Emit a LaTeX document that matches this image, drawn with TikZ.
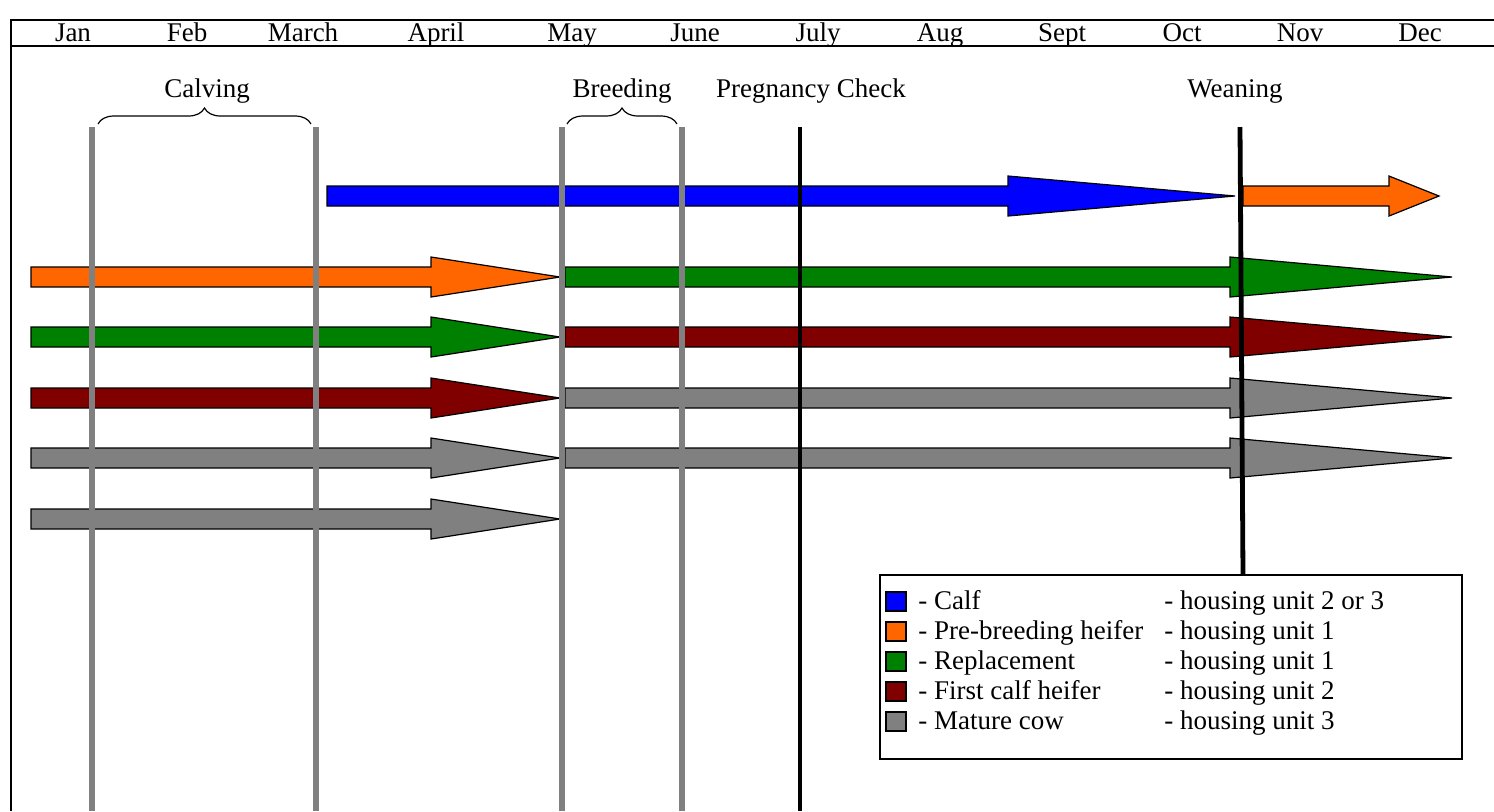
\documentclass[tikz,border=0pt]{standalone}
\usepackage{fontspec}
\setmainfont{Liberation Serif}
\usetikzlibrary{decorations.pathreplacing}
\definecolor{cblue}{RGB}{0,0,255}
\definecolor{corange}{RGB}{255,102,0}
\definecolor{cgreen}{RGB}{0,128,0}
\definecolor{cred}{RGB}{128,0,0}
\definecolor{cgray}{RGB}{128,128,128}
\newcommand\blockarr[5]{% fill, x start, head x, tip x, y
  \filldraw[arrowbody, fill=#1] (#2,#5-10) -- (#3,#5-10) -- (#3,#5-20) -- (#4,#5) -- (#3,#5+20) -- (#3,#5+10) -- (#2,#5+10) -- cycle;}
\begin{document}
\begin{tikzpicture}[x=0.5pt,y=-0.5pt,
  lbl/.style={font=\fontsize{13.5}{16}\selectfont, inner sep=0pt, anchor=base},
  lgd/.style={font=\fontsize{13.5}{16}\selectfont, inner sep=0pt, anchor=base west},
  framel/.style={line width=0.7pt},
  arrowbody/.style={draw=black, line width=0.6pt, line join=miter},
  grayline/.style={line width=2.6pt, draw=cgray},
  blackline/.style={line width=2.4pt, draw=black},
  bracel/.style={decorate, decoration={brace, amplitude=8pt}, line width=0.6pt},
  swatch/.style={draw=black, line width=0.7pt}]
\useasboundingbox (0,0) rectangle (1494,811);
% frame
\draw[framel] (1494,20) -- (11,20) -- (11,811);
\draw[framel] (11,46) -- (1494,46);
% months
\node[lbl] (jan) at (73,41) {Jan};
\node[lbl] (feb) at (187,41) {Feb};
\node[lbl] (mar) at (303,41) {March};
\node[lbl] (apr) at (436,41) {April};
\node[lbl] (may) at (572,41) {May};
\node[lbl] (jun) at (695,41) {June};
\node[lbl] (jul) at (818,41) {July};
\node[lbl] (aug) at (940,41) {Aug};
\node[lbl] (sep) at (1062,41) {Sept};
\node[lbl] (oct) at (1182,41) {Oct};
\node[lbl] (nov) at (1300,41) {Nov};
\node[lbl] (dec) at (1420,41) {Dec};
% event labels
\node[lbl] (calving) at (207,97) {Calving};
\node[lbl] (breeding) at (622,97) {Breeding};
\node[lbl] (preg) at (811,97) {Pregnancy Check};
\node[lbl] (wean) at (1235,97) {Weaning};
% braces
\draw[bracel] (98,124) -- (311,124);
\draw[bracel] (567,124) -- (677,124);
% arrows
\blockarr{cblue}{327}{1008}{1235}{196}
\blockarr{corange}{1243}{1389}{1439}{196}
\blockarr{corange}{31}{431}{560}{277}
\blockarr{cgreen}{565}{1230}{1452}{277}
\blockarr{cgreen}{31}{431}{560}{337}
\blockarr{cred}{565}{1230}{1452}{337}
\blockarr{cred}{31}{431}{560}{398}
\blockarr{cgray}{565}{1230}{1452}{398}
\blockarr{cgray}{31}{431}{560}{458}
\blockarr{cgray}{565}{1230}{1452}{458}
\blockarr{cgray}{31}{431}{560}{519}
% vertical lines
\draw[grayline] (92,127) -- (92,811);
\draw[grayline] (316,127) -- (316,811);
\draw[grayline] (562,127) -- (562,811);
\draw[grayline] (682,127) -- (682,811);
\draw[blackline] (800,127) -- (800,811);
\draw[blackline] (1240,127) -- (1243,575);
% legend
\draw[framel] (880,575) rectangle (1462,759);
\filldraw[swatch, fill=cblue] (886,592) rectangle (906,611);
\filldraw[swatch, fill=corange] (886,622) rectangle (906,641);
\filldraw[swatch, fill=cgreen] (886,652) rectangle (906,671);
\filldraw[swatch, fill=cred] (886,682) rectangle (906,701);
\filldraw[swatch, fill=cgray] (886,712) rectangle (906,731);
\node[lgd] (l1) at (918,609) {- Calf};
\node[lgd] (l2) at (918,639) {- Pre-breeding heifer};
\node[lgd] (l3) at (918,669) {- Replacement};
\node[lgd] (l4) at (918,699) {- First calf heifer};
\node[lgd] (l5) at (918,729) {- Mature cow};
\node[lgd] (h1) at (1164,609) {- housing unit 2 or 3};
\node[lgd] (h2) at (1164,639) {- housing unit 1};
\node[lgd] (h3) at (1164,669) {- housing unit 1};
\node[lgd] (h4) at (1164,699) {- housing unit 2};
\node[lgd] (h5) at (1164,729) {- housing unit 3};
\end{tikzpicture}
\end{document}
